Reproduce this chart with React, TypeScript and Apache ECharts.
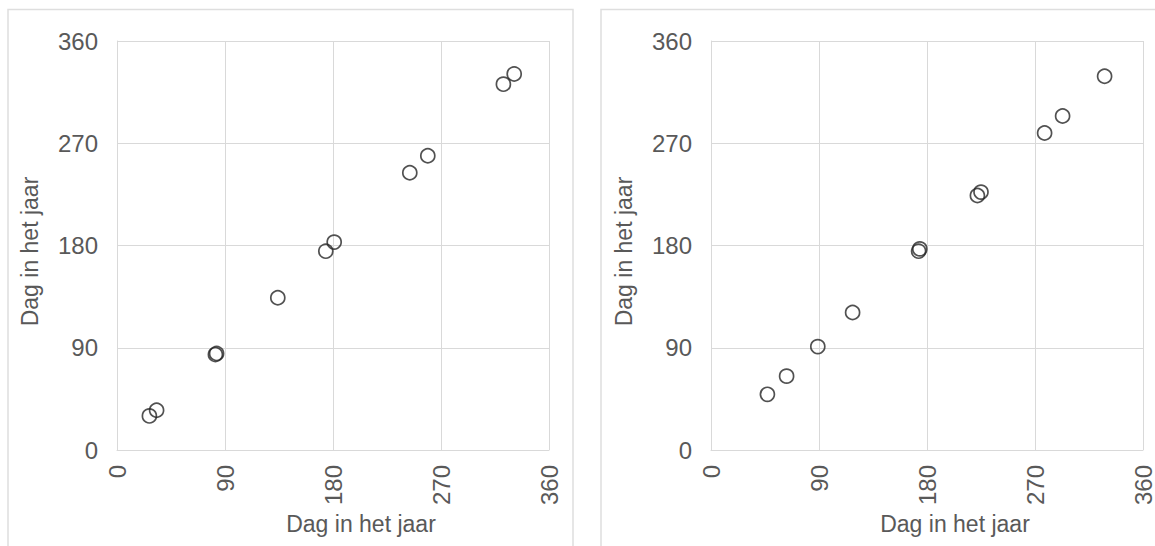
import React, { useEffect, useRef } from "react";
import * as echarts from "echarts";

// Axis ticks shared by both panels (day of the year)
const axisTicks = [0, 90, 180, 270, 360];
const axisTitle = "Dag in het jaar";

// Left panel
const leftX = [27, 33, 82, 83, 134, 174, 181, 244, 259, 322, 331];
const leftY = [30, 35, 84, 85, 134, 175, 183, 244, 259, 322, 331];

// Right panel
const rightX = [47, 63, 89, 118, 173, 174, 222, 225, 278, 293, 328];
const rightY = [49, 65, 91, 121, 175, 177, 224, 227, 279, 294, 329];

const FONT = "'Liberation Sans', Arial, sans-serif";
const TEXT = "#595959";
const GRID = "#d9d9d9";

const pairs = (xs: number[], ys: number[]) => xs.map((x, i) => [x, ys[i]]);

export default function App() {
  const ref = useRef<HTMLDivElement>(null);

  useEffect(() => {
    if (!ref.current) return;
    const chart = echarts.init(ref.current, undefined, { renderer: "svg" });

    const min = axisTicks[0];
    const max = axisTicks[axisTicks.length - 1];
    const interval = axisTicks[1] - axisTicks[0];

    const panels = [
      { left: 117, border: 8 },
      { left: 711, border: 601 },
    ];

    const xAxes: any[] = [];
    const yAxes: any[] = [];
    panels.forEach((_, i) => {
      xAxes.push({
        type: "value",
        gridIndex: i,
        min,
        max,
        interval,
        axisLine: { show: true, onZero: false, lineStyle: { color: GRID, width: 1 } },
        axisTick: { show: false },
        splitLine: { show: true, lineStyle: { color: GRID, width: 1 } },
        axisLabel: { rotate: 90, margin: 15, color: TEXT, fontSize: 24, fontFamily: FONT },
        name: axisTitle,
        nameLocation: "middle",
        nameGap: 60,
        nameTextStyle: { color: TEXT, fontSize: 23, fontFamily: FONT, padding: [0, 0, 0, 56] },
      });
      // short upward extensions of the vertical grid lines
      xAxes.push({
        type: "value",
        gridIndex: i,
        position: "top",
        min,
        max,
        interval,
        axisLine: { show: false },
        axisTick: { show: true, length: 4, lineStyle: { color: GRID } },
        axisLabel: { show: false },
        splitLine: { show: false },
      });
      yAxes.push({
        type: "value",
        gridIndex: i,
        min,
        max,
        interval,
        axisLine: { show: true, onZero: false, lineStyle: { color: GRID, width: 1 } },
        axisTick: { show: false },
        splitLine: { show: true, lineStyle: { color: GRID, width: 1 } },
        axisLabel: { margin: 19, color: TEXT, fontSize: 24, fontFamily: FONT },
        name: axisTitle,
        nameLocation: "middle",
        nameRotate: 90,
        nameGap: 76,
        nameTextStyle: { color: TEXT, fontSize: 23, fontFamily: FONT, padding: [0, 12, 0, 0] },
      });
      // short rightward extensions of the horizontal grid lines
      yAxes.push({
        type: "value",
        gridIndex: i,
        position: "right",
        min,
        max,
        interval,
        axisLine: { show: false },
        axisTick: { show: true, length: 6, lineStyle: { color: GRID } },
        axisLabel: { show: false },
        splitLine: { show: false },
      });
    });

    const marker = {
      type: "scatter",
      symbol: "circle",
      symbolSize: 14,
      itemStyle: { color: "rgba(0,0,0,0)", borderColor: "#262626", borderWidth: 1.7 },
    };

    chart.setOption({
      animation: false,
      backgroundColor: "#ffffff",
      grid: panels.map((p) => ({ left: p.left, top: 41, width: 432, height: 409 })),
      xAxis: xAxes,
      yAxis: yAxes,
      graphic: panels.map((p) => ({
        type: "rect",
        shape: { x: p.border, y: 9.5, width: 565, height: 600 },
        style: { fill: "none", stroke: "#dedede", lineWidth: 1.5 },
        silent: true,
        z: -1,
      })),
      series: [
        { ...marker, xAxisIndex: 0, yAxisIndex: 0, data: pairs(leftX, leftY) },
        { ...marker, xAxisIndex: 2, yAxisIndex: 2, data: pairs(rightX, rightY) },
      ],
    });

    return () => chart.dispose();
  }, []);

  return (
    <div
      ref={ref}
      style={{ position: "fixed", left: 0, top: 0, width: 1155, height: 546 }}
    />
  );
}
